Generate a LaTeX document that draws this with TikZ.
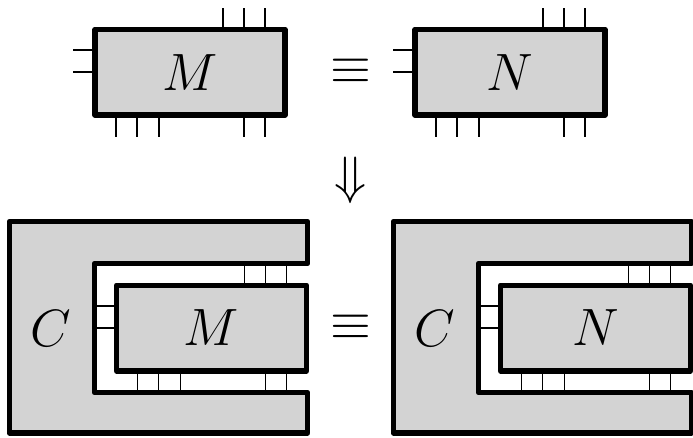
\RequirePackage{fix-cm}
\documentclass[tikz,border=0pt]{standalone}
\definecolor{boxgray}{RGB}{211,211,211}
\begin{document}
\begin{tikzpicture}[x=1pt,y=-1pt,
  blk/.style={draw, line width=5.5pt, fill=boxgray, minimum width=190pt, minimum height=85.5pt,
    inner sep=0pt, line join=round, font=\fontsize{52.5}{60}\selectfont},
  wire/.style={line width=1.9pt},
  cshape/.style={draw, line width=5.5pt, fill=boxgray, line join=round},
  lbl/.style={font=\fontsize{52.5}{60}\selectfont, inner sep=0pt}]
\useasboundingbox (0,0) rectangle (693,437);
\clip (0,0) rectangle (693,437);
% context shapes
\draw[cshape] (307.5,263.5) -- (94.5,263.5) -- (94.5,392.5) -- (307.5,392.5) -- (307.5,433)
  -- (9.5,433) -- (9.5,221.5) -- (307.5,221.5) -- cycle;
\begin{scope}[xshift=384pt]
\draw[cshape] (307.5,263.5) -- (94.5,263.5) -- (94.5,392.5) -- (307.5,392.5) -- (307.5,433)
  -- (9.5,433) -- (9.5,221.5) -- (307.5,221.5) -- cycle;
\end{scope}
% boxes
\node[blk] (M1) at (190,72.25) {$M$};
\node[blk] (N1) at (510,72.25) {$N$};
\node[blk] (M2) at (211.5,328) {$M$};
\node[blk] (N2) at (595.5,328) {$N$};
% wires
\foreach \b in {M1,N1,M2,N2}{
  \foreach \dx in {33,54,75} \draw[wire] ([xshift=\dx pt]\b.north) -- ++(0,-18.75);
  \foreach \dx in {-74,-53,-31,54,75} \draw[wire] ([xshift=\dx pt]\b.south) -- ++(0,18.75);
  \foreach \dy in {22,0} \draw[wire] ([yshift=\dy pt]\b.west) -- ++(-19.25,0);
}
% labels
\node[lbl] (C1) at (51,328.5) {$C$};
\node[lbl] (C2) at (435,328.5) {$C$};
\node[lbl] (eq1) at (350.5,71) {$\equiv$};
\node[lbl] (eq2) at (350.5,327) {$\equiv$};
\node[lbl] (imp) at (351,180) {$\Downarrow$};
\end{tikzpicture}
\end{document}
